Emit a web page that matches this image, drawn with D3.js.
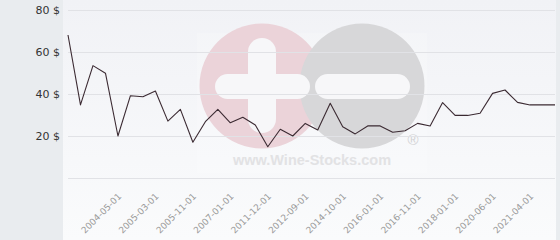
<!DOCTYPE html>
<html>
<head>
<meta charset="utf-8">
<script src="https://cdn.jsdelivr.net/npm/d3@7"></script>
<style>
  body { margin: 0; background: #e9ecef; }
  .ylabel { font: 11px "DejaVu Sans"; fill: #333; }
  .xlabel { font: 9px "DejaVu Sans"; fill: #9a9a9a; }
  .grid line { stroke: #e1e2e6; stroke-width: 1; }
</style>
</head>
<body>
<div id="root"></div>
<script>
// price per bottle, one value per sale date (oldest first)
const prices = [68.1, 34.8, 53.5, 49.9, 20, 39.2, 38.7, 41.4, 27.1, 32.7,
    17, 26.8, 32.7, 26.3, 28.9, 25.2, 14.9, 23.2, 20, 26,
    22.9, 35.6, 24.4, 21, 24.8, 24.8, 21.8, 22.5, 26, 24.8,
    35.9, 29.8, 29.8, 30.8, 40.3, 41.9, 36, 34.8, 34.8, 34.8];

// dates printed under the axis and the point they belong to
const tickLabels = ["2004-05-01", "2005-03-01", "2005-11-01", "2007-01-01", "2011-12-01", "2012-09-01",
    "2014-10-01", "2016-01-01", "2016-11-01", "2018-01-01", "2020-06-01", "2021-04-01"];
const tickIndex = [4, 7, 10, 13, 16, 19, 22, 25, 28, 31, 34, 37];

const yTicks = [20, 40, 60, 80];

const width = 560, height = 240;
const plot = {left: 68, right: 555, top: 10, bottom: 178};

const x = d3.scalePoint().domain(d3.range(prices.length)).range([plot.left, plot.right]);
const y = d3.scaleLinear().domain([0, 80]).range([plot.bottom, plot.top]);

const line = d3.line()
    .x((d, i) => x(i))
    .y((d) => y(d));

const svg = d3.select("#root").append("svg")
    .attr("width", width)
    .attr("height", height)
    .style("display", "block");

// panel background
let grad = svg.append("defs").append("linearGradient")
    .attr("id", "panel").attr("x1", 0).attr("y1", 0).attr("x2", 0).attr("y2", 1);
grad.append("stop").attr("offset", "0%").attr("stop-color", "#f1f2f6");
grad.append("stop").attr("offset", "100%").attr("stop-color", "#fafbfc");

svg.append("rect")
    .attr("x", 63).attr("y", 0)
    .attr("width", 493).attr("height", height)
    .attr("fill", "url(#panel)");

// watermark
let wm = svg.append("g");
wm.append("rect")
    .attr("x", 197).attr("y", 33).attr("width", 230).attr("height", 140)
    .attr("fill", "#fff").attr("opacity", 0.2);
wm.append("circle").attr("cx", 262).attr("cy", 86).attr("r", 62.5).attr("fill", "#ebd3d9");
wm.append("circle").attr("cx", 362).attr("cy", 86).attr("r", 62.5).attr("fill", "#d7d7d9");
// plus
wm.append("rect").attr("x", 248).attr("y", 38).attr("width", 28).attr("height", 95)
    .attr("rx", 14).attr("fill", "#f7f7f9");
wm.append("rect").attr("x", 215).attr("y", 74).attr("width", 95).attr("height", 25)
    .attr("rx", 12.5).attr("fill", "#f7f7f9");
// minus
wm.append("rect").attr("x", 315).attr("y", 74).attr("width", 95).attr("height", 25)
    .attr("rx", 12.5).attr("fill", "#f7f7f9");
wm.append("text")
    .attr("x", 312).attr("y", 165)
    .attr("text-anchor", "middle")
    .style("font", "bold 14.5px 'Liberation Sans'")
    .attr("fill", "#e2e2e4")
    .text("www.Wine-Stocks.com");
wm.append("text")
    .attr("x", 413).attr("y", 145)
    .attr("text-anchor", "middle")
    .style("font", "15px 'Liberation Sans'")
    .attr("fill", "#d2d2d4")
    .text("®");

// grid lines (0 line included)
svg.append("g")
    .attr("class", "grid")
    .selectAll("line")
    .data([0].concat(yTicks))
    .enter()
    .append("line")
    .attr("x1", plot.left).attr("x2", plot.right)
    .attr("y1", (d) => Math.round(y(d)) + 0.5)
    .attr("y2", (d) => Math.round(y(d)) + 0.5);

// y labels
svg.append("g")
    .selectAll("text")
    .data(yTicks)
    .enter()
    .append("text")
    .attr("class", "ylabel")
    .attr("x", 60)
    .attr("y", (d) => y(d) + 4)
    .attr("text-anchor", "end")
    .text((d) => d + " $");

// x labels, slanted
svg.append("g")
    .selectAll("text")
    .data(tickIndex)
    .enter()
    .append("text")
    .attr("class", "xlabel")
    .attr("text-anchor", "end")
    .attr("transform", (d) => "translate(" + (x(d) + 4) + "," + 197 + ")rotate(-45)")
    .text((d, i) => tickLabels[i]);

// price line
svg.append("path")
    .datum(prices)
    .attr("d", line)
    .attr("fill", "none")
    .attr("stroke", "#3b2a32")
    .attr("stroke-width", 1.1)
    .attr("stroke-linejoin", "round");
</script>
</body>
</html>
